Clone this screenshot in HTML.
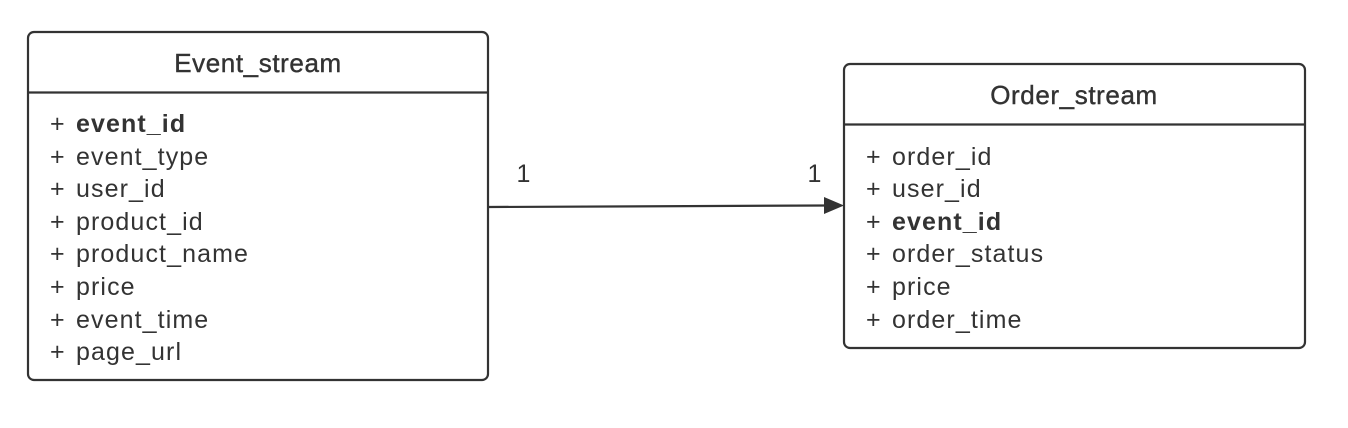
<!DOCTYPE html>
<html><head><meta charset="utf-8"><style>
html,body{margin:0;padding:0;background:#fff;width:1348px;height:428px;overflow:hidden}
text{font-family:"Liberation Sans","Noto Sans CJK SC",sans-serif;fill:#333;font-size:25px;letter-spacing:1.1px}
.t{font-size:26px;letter-spacing:0.6px;stroke:#333;stroke-width:0.4}
</style></head><body>
<svg width="1348" height="428" viewBox="0 0 1348 428">
<g>
<rect x="28" y="32" width="460" height="348" rx="6" fill="#fff" stroke="#333" stroke-width="2.2"/>
<line x1="28" y1="92.5" x2="488" y2="92.5" stroke="#333" stroke-width="2.2"/>
<text class="t" x="258" y="72" text-anchor="middle">Event_stream</text>
<g>
<text x="50" y="132"><tspan>+ </tspan><tspan x="76" font-weight="bold">event_id</tspan></text>
<text x="50" y="165">+<tspan x="76">event_type</tspan></text>
<text x="50" y="197">+<tspan x="76">user_id</tspan></text>
<text x="50" y="230">+<tspan x="76">product_id</tspan></text>
<text x="50" y="262">+<tspan x="76">product_name</tspan></text>
<text x="50" y="295">+<tspan x="76">price</tspan></text>
<text x="50" y="328">+<tspan x="76">event_time</tspan></text>
<text x="50" y="360">+<tspan x="76">page_url</tspan></text>
</g></g>
<g>
<rect x="844" y="64" width="461" height="284" rx="6" fill="#fff" stroke="#333" stroke-width="2.2"/>
<line x1="844" y1="124.5" x2="1305" y2="124.5" stroke="#333" stroke-width="2.2"/>
<text class="t" x="1074" y="104" text-anchor="middle">Order_stream</text>
<g>
<text x="866" y="165">+<tspan x="892">order_id</tspan></text>
<text x="866" y="197">+<tspan x="892">user_id</tspan></text>
<text x="866" y="230">+<tspan x="892" font-weight="bold">event_id</tspan></text>
<text x="866" y="262">+<tspan x="892">order_status</tspan></text>
<text x="866" y="295">+<tspan x="892">price</tspan></text>
<text x="866" y="328">+<tspan x="892">order_time</tspan></text>
</g></g>
<g>
<line x1="489" y1="207" x2="826" y2="205.5" stroke="#333" stroke-width="2.2"/>
<polygon points="824,197 844,205.5 824,214" fill="#333"/>
</g>
<text x="524" y="182" text-anchor="middle">1</text>
<text x="815" y="182" text-anchor="middle">1</text>
</svg>
</body></html>
